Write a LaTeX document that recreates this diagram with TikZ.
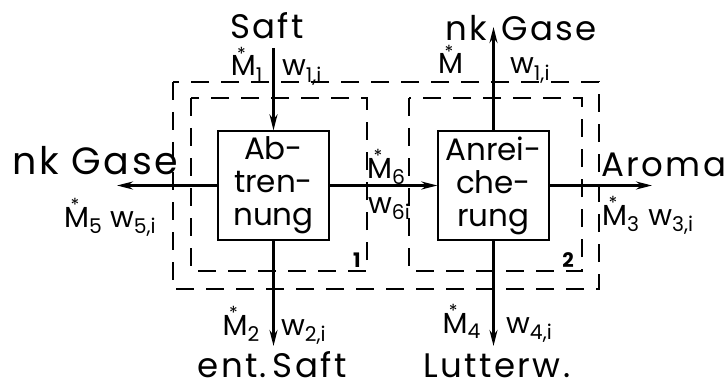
\documentclass[tikz,border=0pt]{standalone}
\usepackage{fontspec}
\setmainfont{Poppins}
\newfontfamily\wideface[LetterSpace=7]{Poppins}
\usetikzlibrary{arrows.meta}
\newcommand\Mst[1]{\mbox{\rlap{\raisebox{0.55em}{\hspace{0.22em}\fontsize{18}{18}\selectfont *}}M\textsubscript{#1}}}
\tikzset{
  x=1pt,y=1pt,
  flow/.style={line width=2.4pt,-{Stealth[length=16pt,width=8pt]}},
  unit/.style={draw,line width=1.3pt,minimum width=111pt,minimum height=109pt,inner sep=0pt,align=center,font=\fontsize{31}{33}\selectfont},
  bound/.style={line width=1.4pt,dash pattern=on 18pt off 12pt},
  big/.style={font=\wideface\fontsize{34}{36}\selectfont,inner sep=0pt,anchor=base},
  bigger/.style={font=\wideface\fontsize{38}{40}\selectfont,inner sep=0pt,anchor=base},
  lab/.style={font=\fontsize{29}{30}\selectfont,inner sep=0pt,anchor=base},
  num/.style={font=\fontsize{20}{20}\selectfont\bfseries,inner sep=0pt,anchor=base}
}
\begin{document}
\begin{tikzpicture}
\useasboundingbox (0,0) rectangle (728,-385);
% boxes
\node[unit] (b1) at (273.5,-185.5) {Ab-\\tren-\\nung};
\node[unit] (b2) at (493.5,-185.5) {Anrei-\\che-\\rung};
% system boundaries
\draw[bound] (173,-82) rectangle (599,-289);
\draw[bound] (191,-98) rectangle (367,-271);
\draw[bound] (409,-98) rectangle (582,-271);
% free ends
\coordinate (saftin) at (273.5,-48);
\coordinate (entout) at (273.5,-346);
\coordinate (gasL) at (117,-185.5);
\coordinate (gasU) at (493.5,-27);
\coordinate (aroma) at (652,-185.5);
\coordinate (lutt) at (493.5,-346);
% flows
\draw[flow] (saftin) -- (b1.north);
\draw[flow] (b1.south) -- (entout);
\draw[flow] (b1.west) -- (gasL);
\draw[flow] (b1.east) -- (b2.west);
\draw[flow] (b2.north) -- (gasU);
\draw[flow] (b2.east) -- (aroma);
\draw[flow] (b2.south) -- (lutt);
% texts
\node[big] (tSaft) at (267,-39) {Saft};
\node[lab,anchor=base east] (tM1) at (263,-76) {\Mst{1}};
\node[lab,anchor=base west] (tw1) at (282,-76) {w\textsubscript{1,i}};
\node[big] (tEnt) at (272,-377) {ent.\,Saft};
\node[lab,anchor=base east] (tM2) at (260,-335) {\Mst{2}};
\node[lab,anchor=base west] (tw2) at (281,-335) {w\textsubscript{2,i}};
\node[bigger,anchor=base west] (tGasL) at (12,-175) {nk Gase};
\node[lab,anchor=base west] (tM5) at (64,-227) {\Mst{5} w\textsubscript{5,i}};
\node[lab,anchor=base west] (tM6) at (367,-178) {\Mst{6}};
\node[lab,anchor=base west] (tw6) at (368,-213) {w\textsubscript{6i}};
\node[big,anchor=base east] (tnk) at (487,-41) {nk};
\node[big,anchor=base west] (tGasU) at (501,-41) {Gase};
\node[lab,anchor=base west] (tM) at (438,-74) {\Mst{}};
\node[lab,anchor=base west] (tw1b) at (510,-74) {w\textsubscript{1,i}};
\node[big,anchor=base west] (tAroma) at (601,-176) {Aroma};
\node[lab,anchor=base west] (tM3) at (602,-225) {\Mst{3}\hspace{0.3em}w\textsubscript{3,i}};
\node[lab,anchor=base east] (tM4) at (481,-333) {\Mst{4}};
\node[lab,anchor=base west] (tw4) at (506,-333) {w\textsubscript{4,i}};
\node[big] (tLutt) at (497,-377) {Lutterw.};
\node[num] (n1) at (357,-267) {1};
\node[num] (n2) at (568,-267) {2};
\end{tikzpicture}
\end{document}
